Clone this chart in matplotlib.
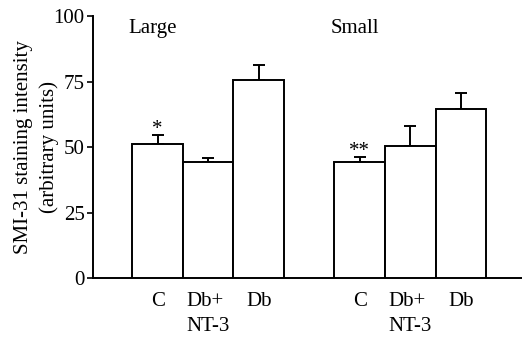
import matplotlib
matplotlib.use("Agg")
import matplotlib.pyplot as plt

plt.rcParams["font.family"] = ["Liberation Serif", "DejaVu Serif"]

groups = ["Large", "Small"]
conditions = ["C", "Db+\nNT-3", "Db"]
large_mean = [51.2, 44.2, 75.6]
large_err = [3.4, 1.6, 5.6]
small_mean = [44.2, 50.6, 64.5]
small_err = [2.1, 7.4, 6.2]
marks = [["*", "", ""], ["**", "", ""]]

FS = 15

fig = plt.figure(figsize=(5.22, 3.37), dpi=100, facecolor="white")
ax = fig.add_axes([0.178, 0.175, 0.822, 0.777])

positions = [[0, 1, 2], [4, 5, 6]]
for g, (means, errs) in enumerate([(large_mean, large_err), (small_mean, small_err)]):
    xs = positions[g]
    ax.bar(xs, means, width=1.0, color="white", edgecolor="black", linewidth=1.4, zorder=3)
    ax.errorbar(xs, means, yerr=[[0] * len(errs), errs], fmt="none", ecolor="black",
                elinewidth=1.4, capsize=4.5, capthick=1.4, zorder=2)
    for x, m, e, s in zip(xs, means, errs, marks[g]):
        if s:
            ax.text(x, m + e - 1.5, s, ha="center", va="bottom", fontsize=FS)
    ax.text(xs[0] - 0.1, 99, groups[g], ha="center", va="top", fontsize=FS)

ax.set_xlim(-1.28, 7.21)
ax.set_ylim(0, 100)
ax.set_yticks([0, 25, 50, 75, 100])
ax.tick_params(axis="y", labelsize=FS, length=4, width=1.2, direction="out", pad=2)
ax.set_xticks(positions[0] + positions[1])
ax.set_xticklabels(conditions * 2, fontsize=FS, linespacing=1.4, va="top",
                   multialignment="left")
ax.tick_params(axis="x", length=0, pad=10)
ax.spines["top"].set_visible(False)
ax.spines["right"].set_visible(False)
ax.spines["left"].set_linewidth(1.4)
ax.spines["bottom"].set_linewidth(1.4)
ax.set_ylabel("SMI-31 staining intensity\n(arbitrary units)", fontsize=FS,
              linespacing=1.45, labelpad=-4)

fig.savefig("out.png", dpi=100, facecolor="white")
